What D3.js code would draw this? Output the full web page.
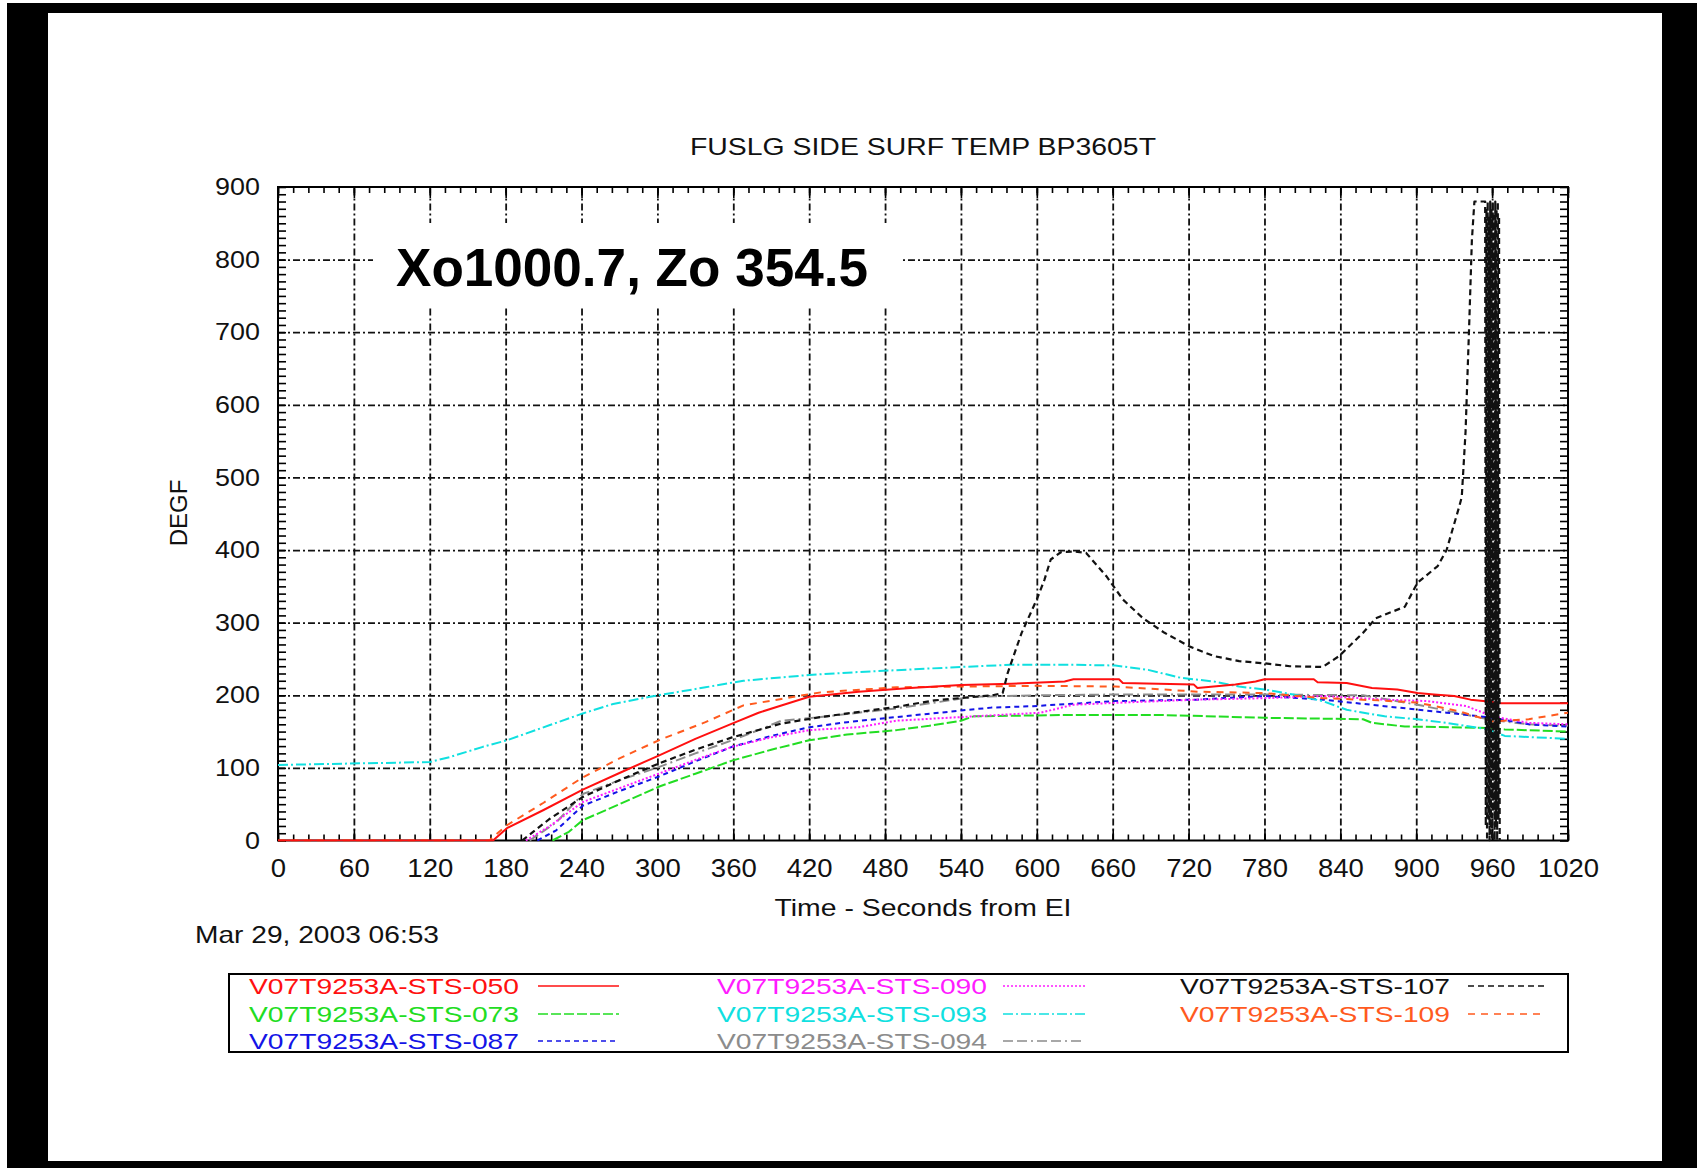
<!DOCTYPE html>
<html>
<head>
<meta charset="utf-8">
<script src="https://cdn.jsdelivr.net/npm/d3@7"></script>
<style>
  html, body { margin: 0; padding: 0; background: #fff; }
  svg { display: block; }
  text { font-family: "Liberation Sans", Arial, Helvetica, sans-serif; }
</style>
</head>
<body>
<script>
// ---- data: STS entry heating, sensor V07T9253A (seconds from EI, deg F) ----
const xTicks = [0, 60, 120, 180, 240, 300, 360, 420, 480, 540, 600, 660, 720, 780, 840, 900, 960, 1020];
const yTicks = [0, 100, 200, 300, 400, 500, 600, 700, 800, 900];

const seriesNames = ["V07T9253A-STS-050", "V07T9253A-STS-073", "V07T9253A-STS-087",
                     "V07T9253A-STS-090", "V07T9253A-STS-093", "V07T9253A-STS-094",
                     "V07T9253A-STS-107", "V07T9253A-STS-109"];

const sts050 = [[0,0],[170,0],[181,17],[210,42],[241,70],[270,93],[301,117],[330,140],[359,161],[380,176],
  [398,186],[420,198],[459,205],[500,210],[540,214],[580,216],[622,219],[629,222],[665,222],[668,217],
  [724,215],[727,210],[757,215],[773,219],[780,222],[819,222],[822,218],[845,217],[865,210],[885,208],
  [901,203],[914,201],[930,199],[943,194],[953,192],[966,189],[1020,189]];

const sts073 = [[217,0],[230,12],[241,28],[270,50],[301,74],[330,92],[359,110],[390,125],[420,138],[450,146],
  [489,152],[515,158],[540,165],[550,171],[629,173],[695,173],[780,169],[858,167],[865,162],[891,157],
  [960,155],[970,153],[1020,150]];

const sts087 = [[205,0],[220,14],[241,48],[270,68],[301,88],[330,109],[359,129],[390,144],[420,156],[450,163],
  [489,170],[540,179],[564,183],[597,185],[662,192],[727,194],[780,199],[826,194],[875,185],[924,176],
  [960,169],[989,160],[1020,157]];

const sts090 = [[196,0],[215,20],[241,53],[270,72],[301,92],[330,111],[359,129],[390,142],[420,152],[459,156],
  [489,165],[540,170],[603,176],[629,187],[668,190],[727,194],[780,196],[826,199],[875,194],[908,192],
  [940,185],[960,171],[989,162],[1020,160]];

const sts093 = [[0,104],[57,106],[120,108],[136,115],[162,129],[181,138],[215,159],[241,175],[265,188],[294,198],
  [338,211],[368,220],[420,228],[459,232],[540,239],[580,242],[629,242],[662,241],[688,235],[714,224],
  [740,219],[760,212],[780,208],[803,201],[826,192],[845,180],[875,171],[901,167],[924,162],[957,153],
  [970,144],[1020,140]];

const sts094 = [[199,0],[220,25],[241,64],[270,83],[301,101],[330,120],[359,138],[380,152],[398,165],[429,170],
  [489,182],[550,198],[600,200],[660,201],[720,201],[780,201],[858,200],[901,187],[960,166],[989,160],
  [1020,158]];

const sts107 = [[193,0],[215,30],[241,60],[270,83],[301,106],[330,125],[359,142],[398,161],[429,170],[489,184],
  [519,193],[565,200],[573,203],[577,231],[588,286],[600,332],[606,359],[611,387],[619,397],[629,398],
  [639,396],[655,364],[668,332],[684,306],[701,286],[721,267],[740,254],[760,247],[780,244],[800,240],
  [826,239],[839,254],[858,286],[868,306],[891,322],[901,355],[917,378],[924,400],[934,460],[936,473],
  [939,563],[942,717],[944,827],[946,880],[953,880],
  // loss of signal: readings swing full scale
  [954.5,880],[955,20],[955.5,870],[956,0],[956.5,880],[957,30],[957.5,860],[958,0],[958.5,880],
  [959,10],[959.5,870],[960,0],[960.5,880],[961,40],[961.5,860],[962,0],[962.5,880],[963,20],
  [963.5,870],[964,0],[964.5,880],[965,30],[965.5,860],[966,0]];

const sts109 = [[0,0],[167,0],[181,21],[210,52],[241,87],[270,113],[301,138],[338,163],[368,186],[398,195],
  [429,204],[489,211],[540,212],[600,213],[662,212],[727,205],[780,203],[826,196],[870,193],[901,190],
  [934,178],[960,164],[989,167],[1020,176]];

const seriesData = [sts050, sts073, sts087, sts090, sts093, sts094, sts107, sts109];
const seriesColors = ["#ff1010", "#22dd22", "#1414e6", "#ff1cff", "#10e0e0", "#8c8c8c", "#111111", "#ff5a1e"];
const seriesDash = ["none", "10,3", "5,4", "2,2", "10,3,2,3", "10,4,10,4,2,4", "6,4", "7,6"];

// ---- layout ----
const W = 1697, H = 1168;
const svg = d3.select("body").append("svg").attr("width", W).attr("height", H);

// black frame around the page
svg.append("rect").attr("x", 7).attr("y", 3).attr("width", W - 7).attr("height", H - 3).attr("fill", "#000");
svg.append("rect").attr("x", 48).attr("y", 13).attr("width", 1662 - 48).attr("height", 1161 - 13).attr("fill", "#fff");

const x = d3.scaleLinear().domain([0, 1020]).range([278, 1568]);
const y = d3.scaleLinear().domain([0, 900]).range([840.5, 187]);
const [x0, x1] = x.range();
const [y0, y1] = y.range();

// stretch text horizontally by a factor (the plot's text is set slightly wide)
function widen(sel, f) {
  sel.each(function () {
    const w = this.getComputedTextLength();
    this.setAttribute("textLength", (w * f).toFixed(1));
    this.setAttribute("lengthAdjust", "spacingAndGlyphs");
  });
}
function fitWidth(sel, w) {
  sel.attr("textLength", w).attr("lengthAdjust", "spacingAndGlyphs");
}

// title
const title = svg.append("text").attr("x", 923).attr("y", 155).attr("text-anchor", "middle")
  .attr("font-size", 24).attr("fill", "#111").text("FUSLG SIDE SURF TEMP BP3605T");
fitWidth(title, 466);

// grid lines (dash-dot)
const gridStyle = g => g.call(s => s.select(".domain").remove())
  .call(s => s.selectAll("line").attr("stroke", "#111").attr("stroke-width", 1.8).attr("stroke-dasharray", "7,3,2,3"))
  .call(s => s.selectAll("text").remove());

svg.append("g").attr("transform", `translate(0,${y0})`)
  .call(d3.axisBottom(x).tickValues(xTicks.slice(1, -1)).tickSize(-(y0 - y1)))
  .call(gridStyle);
svg.append("g").attr("transform", `translate(${x0},0)`)
  .call(d3.axisLeft(y).tickValues(yTicks.slice(1, -1)).tickSize(-(x1 - x0)))
  .call(gridStyle);

// annotation box with location
svg.append("rect").attr("x", 373).attr("y", 223).attr("width", 903 - 373).attr("height", 307 - 223).attr("fill", "#fff");
const loc = svg.append("text").attr("x", 396).attr("y", 286).attr("font-size", 54.5).attr("font-weight", "bold")
  .attr("fill", "#000").text("Xo1000.7, Zo 354.5");
fitWidth(loc, 472);

// tick marks on all four sides (pointing inward)
const tickStyle = g => g.call(s => s.select(".domain").remove())
  .call(s => s.selectAll("line").attr("stroke", "#000").attr("stroke-width", 1.6))
  .call(s => s.selectAll("text").remove());
const xMinor = d3.range(0, 1021, 12);
const yMinor = d3.range(0, 901, 10);
svg.append("g").attr("transform", `translate(0,${y0})`).call(d3.axisBottom(x).tickValues(xMinor).tickSize(-6)).call(tickStyle);
svg.append("g").attr("transform", `translate(0,${y1})`).call(d3.axisTop(x).tickValues(xMinor).tickSize(-6)).call(tickStyle);
svg.append("g").attr("transform", `translate(0,${y0})`).call(d3.axisBottom(x).tickValues(xTicks).tickSize(-11)).call(tickStyle);
svg.append("g").attr("transform", `translate(0,${y1})`).call(d3.axisTop(x).tickValues(xTicks).tickSize(-11)).call(tickStyle);
svg.append("g").attr("transform", `translate(${x0},0)`).call(d3.axisLeft(y).tickValues(yMinor).tickSize(-8)).call(tickStyle);
svg.append("g").attr("transform", `translate(${x1},0)`).call(d3.axisRight(y).tickValues(yMinor).tickSize(-8)).call(tickStyle);

// plot frame
svg.append("rect").attr("x", x0).attr("y", y1).attr("width", x1 - x0).attr("height", y0 - y1)
  .attr("fill", "none").attr("stroke", "#000").attr("stroke-width", 2);

// data lines
const line = d3.line().x(d => x(d[0])).y(d => y(d[1]));
svg.append("defs").append("clipPath").attr("id", "plotClip")
  .append("rect").attr("x", x0).attr("y", y1 - 2).attr("width", x1 - x0).attr("height", y0 - y1 + 3);
const plot = svg.append("g").attr("clip-path", "url(#plotClip)");
const order = [5, 1, 2, 3, 4, 7, 0, 6];
order.forEach(i => {
  plot.append("path").datum(seriesData[i]).attr("d", line)
    .attr("fill", "none").attr("stroke", seriesColors[i]).attr("stroke-width", i === 6 ? 2.2 : 2)
    .attr("stroke-dasharray", seriesDash[i] === "none" ? null : seriesDash[i])
    .attr("stroke-linejoin", "round");
});

// tick labels
const xLab = svg.append("g").attr("transform", `translate(0,${y0})`)
  .call(d3.axisBottom(x).tickValues(xTicks).tickSize(0).tickPadding(19).tickFormat(d3.format("d")));
xLab.select(".domain").remove();
xLab.selectAll("text").attr("font-size", 25).attr("fill", "#111").attr("font-family", null).call(widen, 1.1);

const yLab = svg.append("g").attr("transform", `translate(${x0},0)`)
  .call(d3.axisLeft(y).tickValues(yTicks).tickSize(0).tickPadding(18).tickFormat(d3.format("d")));
yLab.select(".domain").remove();
yLab.selectAll("text").attr("font-size", 24).attr("fill", "#111").attr("font-family", null).call(widen, 1.12);

// axis titles
const xt = svg.append("text").attr("x", 923).attr("y", 916).attr("text-anchor", "middle")
  .attr("font-size", 24).attr("fill", "#111").text("Time - Seconds from EI");
fitWidth(xt, 297);
svg.append("text").attr("transform", "translate(187,513) rotate(-90)").attr("text-anchor", "middle")
  .attr("font-size", 24).attr("fill", "#111").text("DEGF");

// timestamp
const ts = svg.append("text").attr("x", 195).attr("y", 943).attr("font-size", 24).attr("fill", "#111")
  .text("Mar 29, 2003 06:53");
fitWidth(ts, 244);

// legend
svg.append("rect").attr("x", 229).attr("y", 974).attr("width", 1568 - 229).attr("height", 1052 - 974)
  .attr("fill", "#fff").attr("stroke", "#000").attr("stroke-width", 2);
const colText = [249, 717, 1180];
const colLine = [[538, 619], [1003, 1085], [1468, 1545]];
const rowBase = [994, 1022, 1049];
seriesNames.forEach((name, i) => {
  const c = Math.floor(i / 3), r = i % 3;
  const t = svg.append("text").attr("x", colText[c]).attr("y", rowBase[r]).attr("font-size", 22)
    .attr("fill", seriesColors[i]).text(name);
  fitWidth(t, 270);
  svg.append("line").attr("x1", colLine[c][0]).attr("x2", colLine[c][1])
    .attr("y1", rowBase[r] - 8).attr("y2", rowBase[r] - 8)
    .attr("stroke", seriesColors[i]).attr("stroke-width", 1.6)
    .attr("stroke-dasharray", seriesDash[i] === "none" ? null : seriesDash[i]);
});
</script>
</body>
</html>
